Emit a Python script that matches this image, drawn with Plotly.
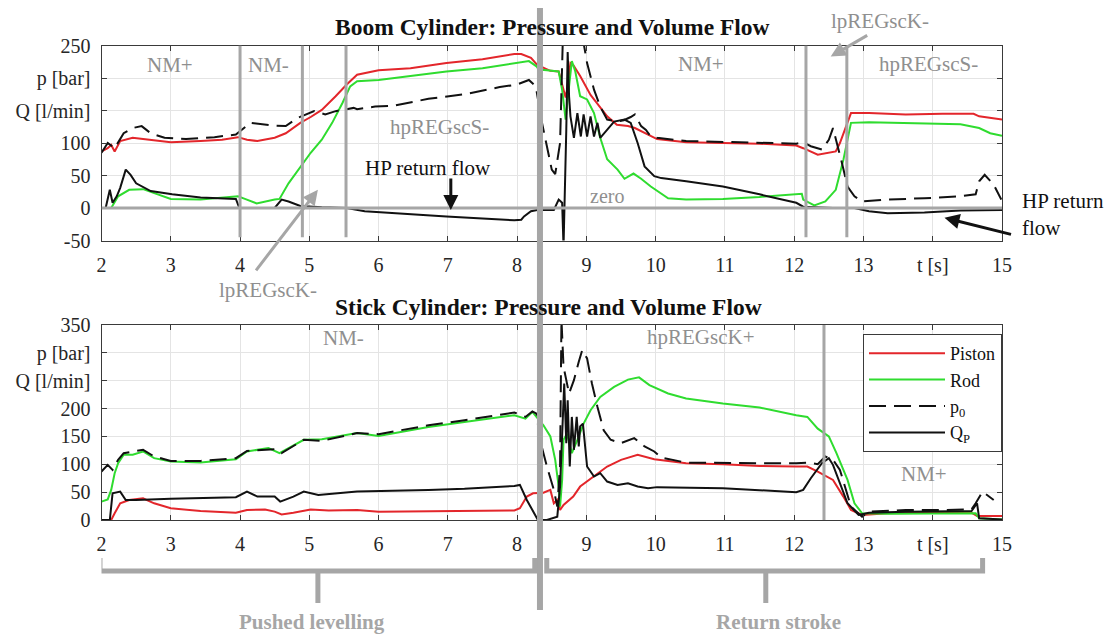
import plotly.graph_objects as go

# ---------------- data ----------------
# Boom cylinder
boom_piston_t = [2.0, 2.09, 2.14, 2.19, 2.27, 2.45, 2.6, 2.86, 3.0, 3.43, 3.74, 3.97, 4.1, 4.25, 4.5, 4.66, 4.87, 5.02, 5.18, 5.38, 5.54, 5.69, 6.0, 6.46, 6.98, 7.5, 7.96, 8.06, 8.2, 8.29, 8.39, 8.48, 8.6, 8.65, 8.7, 8.72, 8.77, 8.81, 8.91, 9.06, 9.2, 9.3, 9.44, 9.6, 9.7, 9.86, 10.02, 10.44, 10.97, 11.5, 12.03, 12.13, 12.34, 12.6, 12.66, 12.74, 12.82, 13.08, 13.61, 14.14, 14.59, 14.67, 15.0]
boom_piston = [87, 92, 97, 87, 103, 108, 106, 103, 101, 103, 105, 109, 105, 103, 108, 115, 131, 140, 151, 172, 190, 205, 212, 215, 223, 229, 237, 237, 231, 220, 215, 211, 210, 192, 170, 182, 223, 220, 203, 174, 154, 141, 128, 126, 123, 115, 106, 101, 100, 99, 96, 92, 82, 87, 100, 123, 146, 146, 144, 145, 145, 141, 136]

boom_rod_t = [2.0, 2.14, 2.24, 2.4, 2.6, 2.76, 3.0, 3.43, 3.97, 4.07, 4.24, 4.5, 4.57, 4.7, 4.87, 5.02, 5.18, 5.33, 5.48, 5.59, 5.69, 6.0, 6.46, 6.98, 7.5, 7.96, 8.17, 8.28, 8.31, 8.43, 8.6, 8.65, 8.7, 8.75, 8.79, 8.84, 8.91, 9.01, 9.11, 9.2, 9.3, 9.45, 9.55, 9.68, 9.79, 9.93, 10.07, 10.18, 10.44, 10.97, 11.5, 12.11, 12.13, 12.29, 12.45, 12.6, 12.71, 12.82, 13.08, 13.61, 14.4, 14.67, 14.83, 15.0]
boom_rod = [0, 0, 18, 28, 29, 23, 14, 13, 18, 14, 7, 13, 14, 38, 64, 85, 105, 131, 162, 187, 195, 197, 203, 210, 215, 222, 226, 218, 213, 212, 210, 182, 136, 187, 226, 210, 172, 167, 146, 108, 75, 59, 45, 53, 45, 33, 23, 15, 13, 14, 17, 22, 13, 4, 10, 28, 74, 131, 132, 131, 129, 123, 115, 111]

boom_p0_t = [2.0, 2.09, 2.19, 2.32, 2.45, 2.58, 2.71, 2.91, 3.22, 3.63, 3.94, 4.05, 4.15, 4.46, 4.66, 4.82, 5.07, 5.23, 5.38, 5.64, 5.69, 5.95, 6.2, 6.72, 7.24, 7.75, 8.0, 8.17, 8.27, 8.35, 8.43, 8.5, 8.55, 8.62, 8.66, 8.75, 8.85, 8.95, 9.01, 9.11, 9.2, 9.3, 9.45, 9.54, 9.64, 9.7, 9.79, 9.86, 9.93, 10.02, 10.44, 10.97, 11.5, 12.03, 12.13, 12.24, 12.4, 12.5, 12.56, 12.63, 12.69, 12.77, 12.87, 12.98, 13.35, 13.88, 14.4, 14.62, 14.67, 14.75, 14.88, 14.99]
boom_p0 = [85, 100, 92, 115, 123, 126, 115, 108, 106, 109, 113, 123, 131, 127, 126, 138, 149, 144, 149, 154, 152, 156, 157, 168, 175, 186, 190, 197, 187, 136, 95, 59, 52, 100, 260, 300, 280, 260, 223, 182, 156, 136, 133, 135, 140, 144, 126, 120, 110, 108, 103, 102, 101, 99, 101, 95, 90, 105, 123, 95, 69, 33, 18, 10, 13, 15, 18, 21, 41, 51, 36, 13]

boom_qp_t = [2.0, 2.06, 2.12, 2.16, 2.22, 2.27, 2.35, 2.42, 2.5, 2.71, 3.02, 3.43, 3.94, 3.99, 4.5, 4.6, 4.7, 4.87, 5.18, 5.54, 5.8, 6.2, 6.98, 7.5, 7.96, 8.06, 8.1, 8.2, 8.29, 8.53, 8.6, 8.65, 8.67, 8.71, 8.73, 8.75, 8.77, 8.82, 8.87, 8.92, 8.96, 9.01, 9.06, 9.11, 9.16, 9.2, 9.3, 9.4, 9.55, 9.64, 9.74, 9.84, 9.98, 10.08, 10.44, 10.97, 11.5, 12.03, 12.13, 12.56, 12.87, 13.08, 13.35, 13.88, 14.4, 15.0]
boom_qp = [0, 0, 28, 8, 18, 31, 59, 51, 38, 26, 21, 16, 14, 0, 0, 13, 10, 3, 1, 0, -5, -8, -13, -16, -19, -18, -13, -5, -3, -3, 13, 8, -60, 121, 240, 172, 141, 108, 146, 110, 144, 110, 141, 110, 131, 108, 121, 133, 136, 131, 100, 64, 49, 46, 41, 33, 21, 8, 2, 0, 0, -5, -8, -7, -4, -3]

# Stick cylinder
stick_piston_t = [2.0, 2.14, 2.19, 2.27, 2.4, 2.6, 2.76, 3.0, 3.43, 3.94, 4.1, 4.36, 4.5, 4.6, 4.77, 5.02, 5.28, 5.69, 6.0, 6.72, 7.24, 7.96, 8.04, 8.14, 8.23, 8.38, 8.48, 8.53, 8.58, 8.62, 8.67, 8.72, 8.81, 8.91, 9.11, 9.3, 9.5, 9.74, 9.98, 10.44, 10.97, 11.5, 12.03, 12.19, 12.34, 12.56, 12.71, 12.82, 12.98, 13.35, 14.14, 14.56, 14.64, 15.0]
stick_piston = [0, 0, 12, 30, 36, 39, 30, 21, 16, 13, 18, 19, 15, 10, 13, 19, 17, 18, 15, 16, 17, 17, 21, 42, 48, 49, 54, 30, 36, 18, 27, 33, 42, 60, 78, 96, 108, 117, 109, 102, 100, 97, 96, 96, 87, 72, 42, 18, 9, 12, 13, 13, 7, 7]

stick_rod_t = [2.0, 2.09, 2.14, 2.19, 2.24, 2.32, 2.45, 2.6, 2.76, 3.0, 3.43, 3.94, 4.1, 4.41, 4.57, 4.66, 4.92, 5.18, 5.48, 5.69, 6.0, 6.72, 7.24, 7.96, 8.12, 8.22, 8.3, 8.38, 8.48, 8.55, 8.6, 8.62, 8.65, 8.67, 8.72, 8.79, 8.87, 8.96, 9.06, 9.2, 9.4, 9.6, 9.76, 9.91, 10.18, 10.44, 10.97, 11.5, 12.03, 12.19, 12.34, 12.5, 12.61, 12.77, 12.87, 12.98, 13.35, 14.14, 14.62, 14.67, 15.0]
stick_rod = [33, 37, 54, 84, 102, 117, 117, 123, 111, 105, 103, 109, 123, 129, 120, 126, 144, 145, 151, 156, 151, 167, 176, 188, 182, 194, 182, 170, 150, 108, 60, 24, 72, 144, 155, 120, 144, 173, 197, 221, 239, 252, 256, 242, 227, 218, 209, 202, 188, 185, 164, 150, 120, 72, 30, 12, 11, 12, 12, 3, 1]

stick_p0_t = [2.0, 2.09, 2.16, 2.24, 2.32, 2.45, 2.6, 2.76, 3.0, 3.43, 3.94, 4.1, 4.5, 4.6, 4.92, 5.18, 5.69, 6.0, 6.72, 7.24, 7.96, 8.12, 8.22, 8.28, 8.33, 8.43, 8.53, 8.58, 8.62, 8.64, 8.67, 8.75, 8.82, 8.89, 8.94, 9.01, 9.08, 9.16, 9.25, 9.35, 9.5, 9.69, 9.84, 9.98, 10.08, 10.44, 10.97, 11.5, 12.03, 12.21, 12.34, 12.45, 12.56, 12.66, 12.82, 12.98, 13.08, 13.61, 14.14, 14.56, 14.62, 14.72, 14.88]
stick_p0 = [87, 99, 90, 108, 120, 123, 126, 114, 106, 106, 111, 124, 127, 120, 144, 142, 156, 154, 170, 179, 193, 185, 195, 191, 144, 96, 54, 24, 96, 360, 275, 227, 251, 284, 305, 290, 245, 203, 161, 144, 138, 147, 132, 123, 112, 103, 102, 102, 102, 103, 100, 114, 108, 90, 24, 6, 15, 18, 18, 19, 30, 51, 36]

stick_qp_t = [2.0, 2.12, 2.16, 2.27, 2.35, 2.5, 3.0, 3.94, 4.1, 4.25, 4.5, 4.58, 4.77, 4.92, 5.13, 5.69, 6.72, 7.24, 7.96, 8.04, 8.14, 8.3, 8.43, 8.58, 8.62, 8.65, 8.68, 8.71, 8.73, 8.76, 8.79, 8.82, 8.86, 8.89, 8.91, 8.95, 9.01, 9.11, 9.2, 9.3, 9.45, 9.6, 9.74, 9.89, 10.02, 10.97, 11.5, 12.03, 12.13, 12.24, 12.4, 12.5, 12.56, 12.66, 12.77, 12.93, 13.08, 13.61, 14.14, 14.56, 14.64, 14.67, 15.0]
stick_qp = [0, 0, 48, 51, 36, 36, 38, 41, 51, 42, 42, 33, 42, 51, 45, 51, 54, 56, 61, 63, 36, 0, 0, 6, 60, 155, 245, 138, 215, 96, 185, 126, 185, 132, 168, 173, 96, 78, 84, 69, 63, 66, 60, 57, 59, 57, 54, 50, 54, 75, 102, 111, 99, 66, 30, 9, 13, 15, 16, 16, 30, 3, 1]

# axis ticks
x_ticks = list(range(2, 16))
x_ticktext = [str(v) if v != 14 else "t [s]" for v in x_ticks]
boom_yticks = [-50, 0, 50, 100, 150, 200, 250]
boom_yticktext = ["-50", "0", "50", "100", "Q [l/min]", "p [bar]", "250"]
stick_yticks = [0, 50, 100, 150, 200, 250, 300, 350]
stick_yticktext = ["0", "50", "100", "150", "200", "Q [l/min]", "p [bar]", "350"]

# phase boundaries / markers (time values)
boom_phase_t = [4.0, 4.9, 5.53, 12.17, 12.76]
stick_phase_t = [12.43]
split_t = 8.33

# ---------------- styling ----------------
W, H = 1114, 634
OFF = 8  # page body margin of the browser
SERIF = "Liberation Serif"
RED = "#e3262b"
GREEN = "#2fdc2f"
BLACK = "#111111"
GRAY = "#a6a6a6"
TXTGRAY = "#8f8f8f"
DASH = "17px,8px"


def px_x(p):
    return (p - OFF) / W


def px_y(p):
    return 1 - (p - OFF) / H


fig = go.Figure()

series = [
    ("Piston", RED, "solid"),
    ("Rod", GREEN, "solid"),
    ("p<sub>0</sub>", BLACK, DASH),
    ("Q<sub>P</sub>", BLACK, "solid"),
]
boom_data = [(boom_piston_t, boom_piston), (boom_rod_t, boom_rod), (boom_p0_t, boom_p0), (boom_qp_t, boom_qp)]
stick_data = [(stick_piston_t, stick_piston), (stick_rod_t, stick_rod), (stick_p0_t, stick_p0), (stick_qp_t, stick_qp)]

for (name, col, dash), (tt, vv) in zip(series, boom_data):
    fig.add_trace(go.Scatter(x=tt, y=vv, mode="lines", name=name, legendgroup=name,
                             showlegend=False, line=dict(color=col, width=2, dash=dash),
                             xaxis="x", yaxis="y"))
for (name, col, dash), (tt, vv) in zip(series, stick_data):
    fig.add_trace(go.Scatter(x=tt, y=vv, mode="lines", name=name, legendgroup=name,
                             showlegend=True, line=dict(color=col, width=2, dash=dash),
                             xaxis="x2", yaxis="y2"))

x_dom = [px_x(101.5), px_x(1002)]
axis_common = dict(
    showgrid=True, gridcolor="#e4e4e4", gridwidth=1,
    ticks="inside", ticklen=5, tickcolor="#3a3a3a",
    showline=True, linecolor="#3a3a3a", linewidth=1, mirror="ticks",
    zeroline=False, automargin=False,
    tickfont=dict(family=SERIF, size=20, color="#262626"),
)

fig.update_layout(
    width=W, height=H, margin=dict(l=0, r=0, t=0, b=0, autoexpand=False),
    paper_bgcolor="white", plot_bgcolor="white",
    xaxis=dict(domain=x_dom, range=[2, 15], anchor="y", tickvals=x_ticks, ticktext=x_ticktext,
               ticklabelstandoff=6, **axis_common),
    yaxis=dict(domain=[px_y(240.5), px_y(45.5)], range=[-50, 250], anchor="x",
               tickvals=boom_yticks, ticktext=boom_yticktext, ticklabelstandoff=6, **axis_common),
    xaxis2=dict(domain=x_dom, range=[2, 15], anchor="y2", tickvals=x_ticks, ticktext=x_ticktext,
                ticklabelstandoff=6, **axis_common),
    yaxis2=dict(domain=[px_y(520), px_y(325)], range=[0, 350], anchor="x2",
                tickvals=stick_yticks, ticktext=stick_yticktext, ticklabelstandoff=6, **axis_common),
    legend=dict(x=px_x(863), y=px_y(334), xanchor="left", yanchor="top",
                bgcolor="white", bordercolor="#3a3a3a", borderwidth=1,
                font=dict(family=SERIF, size=18, color="#111111"),
                itemwidth=76, tracegroupgap=0),
    showlegend=True,
)

shapes = []
# phase lines in boom plot
for t in boom_phase_t:
    shapes.append(dict(type="line", xref="x", yref="y", x0=t, x1=t, y0=250, y1=-45,
                       line=dict(color=GRAY, width=3), layer="above"))
# zero line boom
shapes.append(dict(type="line", xref="x", yref="y", x0=2, x1=15, y0=0, y1=0,
                   line=dict(color=GRAY, width=3), layer="above"))
# phase line in stick plot
for t in stick_phase_t:
    shapes.append(dict(type="line", xref="x2", yref="y2", x0=t, x1=t, y0=0, y1=350,
                       line=dict(color=GRAY, width=3), layer="above"))
# big separator
shapes.append(dict(type="line", xref="x", yref="paper", x0=split_t, x1=split_t,
                   y0=px_y(610), y1=px_y(8), line=dict(color=GRAY, width=6), layer="above"))
# brackets
yt, yh, yb = px_y(558), px_y(571), px_y(603)
for a, b, c in [(1.978, 8.255, 5.124), (8.428, 14.72, 11.59)]:
    shapes.append(dict(type="path", xref="x2", yref="paper",
                       path=f"M {a},{yt} L {a},{yh} L {b},{yh} L {b},{yt} M {c},{yh} L {c},{yb}",
                       line=dict(color=GRAY, width=5), layer="above"))
fig.update_layout(shapes=shapes)

ann = []


def txt(x, y, s, size=21, color=TXTGRAY, bold=False, xanchor="center", align="center"):
    ann.append(dict(x=px_x(x), y=px_y(y), xref="paper", yref="paper", text=s, showarrow=False,
                    xanchor=xanchor, yanchor="middle", align=align,
                    font=dict(family=SERIF, size=size, color=color,
                              weight="bold" if bold else "normal")))


# titles
txt(552, 27, "Boom Cylinder: Pressure and Volume Flow", size=23.5, color="#111111", bold=True)
txt(548, 307, "Stick Cylinder: Pressure and Volume Flow", size=23.5, color="#111111", bold=True)
# phase labels
txt(170, 65, "NM+")
txt(268, 65, "NM-")
txt(439, 127, "hpREGscS-")
txt(268, 290, "lpREGscK-")
txt(701, 64, "NM+")
txt(928, 64, "hpREGscS-")
txt(880, 21, "lpREGscK-")
txt(607, 196, "zero", size=20)
txt(343, 338, "NM-")
txt(701, 337, "hpREGscK+")
txt(924, 474, "NM+")
txt(428, 168, "HP return flow", color="#111111")
txt(1020, 215, "HP return<br>flow", color="#111111", xanchor="left", align="left")
txt(312, 622, "Pushed levelling", color=GRAY, bold=True)
txt(778, 622, "Return stroke", color=GRAY, bold=True)


def arrow(xh, yh, xt, yt, color, ref="x", yref="y"):
    # head given in data coords of (ref, yref); tail offset in pixels
    ann.append(dict(x=xh, y=yh, xref=ref, yref=yref, ax=xt, ay=yt, axref="pixel", ayref="pixel",
                    text="", showarrow=True, arrowhead=2, arrowsize=1, arrowwidth=3,
                    arrowcolor=color, standoff=0))


arrow(5.124, 28, -63, 82, GRAY)
arrow(12.527, 233, 38, -22, GRAY)
arrow(7.043, -3, 0, -33, "#111111")
arrow(14.17, -15, 68, 17, "#111111")

fig.update_layout(annotations=ann)

fig.write_html("out.html")
